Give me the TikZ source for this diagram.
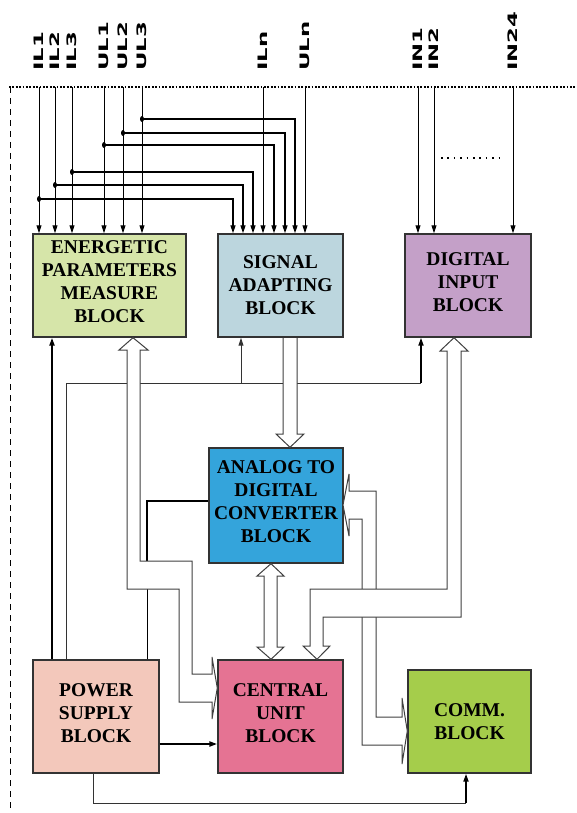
\documentclass[tikz,border=0pt]{standalone}
\usepackage{fontspec}
\setmainfont{Liberation Serif}
\newfontfamily\lblfont{DejaVu Sans}
\usetikzlibrary{arrows.meta}
\definecolor{cEn}{HTML}{D6E5A9}
\definecolor{cSi}{HTML}{BCD6DE}
\definecolor{cDi}{HTML}{C4A0C8}
\definecolor{cAd}{HTML}{34A4DB}
\definecolor{cPw}{HTML}{F3C8BB}
\definecolor{cCe}{HTML}{E57393}
\definecolor{cCo}{HTML}{A5CD4B}
\begin{document}
\begin{tikzpicture}[x=1pt,y=-1pt,
  blk/.style={draw=black!80, line width=1.4pt, font=\bfseries\fontsize{19.5}{23}\selectfont, align=center, inner sep=0pt},
  up/.style={text depth=7pt},
  tip/.style={-{Triangle[length=8pt,width=5pt]}},
  inp/.style={line width=0.9pt, tip},
  brn/.style={line width=1.3pt, tip},
  lbl/.style={rotate=90, anchor=west, inner sep=0pt, font=\lblfont\bfseries\fontsize{13}{14}\selectfont},
  bus/.style={draw=black!75, line width=1pt, fill=white, line join=miter},
  thk/.style={line width=2pt},
  thn/.style={line width=1pt, draw=black!80},
]
\useasboundingbox (0,0) rectangle (577,813);

% boxes
\node[blk, up, fill=cEn, minimum width=153pt, minimum height=103pt] (en) at (109.5,285.5) {ENERGETIC\\PARAMETERS\\MEASURE\\BLOCK};
\node[blk, fill=cSi, minimum width=125pt, minimum height=103pt] (si) at (280.5,285.5) {SIGNAL\\ADAPTING\\BLOCK};
\node[blk, up, fill=cDi, minimum width=126pt, minimum height=103pt] (di) at (468,285.5) {DIGITAL\\INPUT\\BLOCK};
\node[blk, up, fill=cAd, minimum width=134pt, minimum height=115pt] (ad) at (276,505.5) {ANALOG TO\\DIGITAL\\CONVERTER\\BLOCK};
\node[blk, up, fill=cPw, minimum width=126pt, minimum height=113pt] (pw) at (96,716.5) {POWER\\SUPPLY\\BLOCK};
\node[blk, up, fill=cCe, minimum width=125pt, minimum height=113pt] (ce) at (280.5,716.5) {CENTRAL\\UNIT\\BLOCK};
\node[blk, fill=cCo, minimum width=123pt, minimum height=103pt] (co) at (469.5,721.5) {COMM.\\BLOCK};

% frame lines
\coordinate (T) at (0,87);
\draw[line width=1.8pt, dash pattern=on 1.8pt off 1.6pt] (9,87) -- (577,87);
\draw[line width=0.9pt, dash pattern=on 6pt off 5pt] (10,87) -- (10,813);
\draw[line width=1.6pt, dash pattern=on 1.6pt off 4.8pt] (441,158) -- (500,158);

% labels
\foreach \x/\t/\n in {39/IL1/l1, 55/IL2/l2, 72/IL3/l3, 104/UL1/u1, 123/UL2/u2, 142/UL3/u3, 263/ILn/ln, 305/ULn/un, 418/IN1/i1, 434/IN2/i2, 513/IN24/i24}
  \node[lbl] (\n) at (\x,71) {\scalebox{1.75}[1]{\t}};

% input lines
\foreach \n in {l1,l2,l3,u1,u2,u3}
  \draw[inp] (\n.west |- T) -- (\n.west |- en.north);
\foreach \n in {ln,un}
  \draw[inp] (\n.west |- T) -- (\n.west |- si.north);
\foreach \n in {i1,i2,i24}
  \draw[inp] (\n.west |- T) -- (\n.west |- di.north);

% branches to signal block
\foreach \n/\y/\x in {l1/199/233, l2/185/243, l3/172/253, u1/145/274, u2/133/285, u3/119/295}{
  \draw[brn] (\n.west |- 0,\y) -| (\x,0 |- si.north);
  \fill (\n.west |- 0,\y) ellipse (2pt and 3pt);
}

% power supply connections
\draw[thk, tip] (52,0 |- pw.north) -- (52,0 |- en.south);
\draw[thn] (66,0 |- pw.north) |- (421,383);
\draw[line width=1.8pt, tip] (421,383) -- (421,0 |- di.south);
\draw[thn, tip] (241,383) -- (241,0 |- si.south);
\draw[line width=1pt] (147,0 |- pw.north) -- (147,575);
\draw[line width=2pt] (147,575) |- (ad.west |- 0,501);
\draw[thk, tip] (pw.east |- 0,744) -- (ce.west |- 0,744);
\draw[thn] (93,0 |- pw.south) |- (466,803);
\draw[line width=1.8pt, tip] (466,803) -- (466,0 |- co.south);

% bus: ADC <-> COMM
\draw[bus] (343,505) -- (349,474) -- (349,491) -- (376,491) -- (376,717) -- (402,717) -- (402,698)
  -- (co.west |- 0,731) -- (402,764) -- (402,745) -- (362,745) -- (362,519) -- (349,519) -- (349,536) -- cycle;
% bus: DIGITAL -> CENTRAL
\draw[bus] (454,0 |- di.south) -- (468,351) -- (461,351) -- (461,617) -- (323,617) -- (323,646) -- (330,646)
  -- (317,0 |- ce.north) -- (303,646) -- (310,646) -- (310,589) -- (447,589) -- (447,351) -- (440,351) -- cycle;
% bus: ENERGETIC <-> CENTRAL
\draw[bus] (133,0 |- en.south) -- (148,350) -- (140,350) -- (140,561) -- (192,561) -- (192,674) -- (212,674) -- (212,657)
  -- (ce.west |- 0,688) -- (212,719) -- (212,702) -- (179,702) -- (179,589) -- (127,589) -- (127,350) -- (119,350) -- cycle;
% bus: SIGNAL -> ADC
\draw[bus] (283,338) -- (283,434) -- (276,434) -- (290,0 |- ad.north) -- (304,434) -- (297,434) -- (297,338);
% bus: ADC <-> CENTRAL
\draw[bus] (271,0 |- ad.south) -- (284,576) -- (277,576) -- (277,647) -- (284,647) -- (271,0 |- ce.north)
  -- (257,647) -- (264,647) -- (264,576) -- (257,576) -- cycle;
\end{tikzpicture}
\end{document}
